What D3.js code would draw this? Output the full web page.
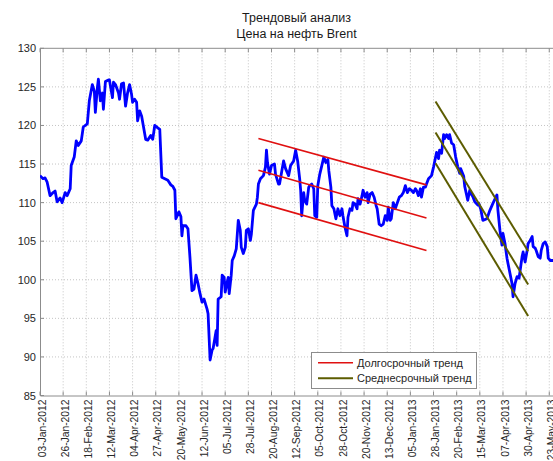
<!DOCTYPE html>
<html><head><meta charset="utf-8">
<script src="https://cdn.jsdelivr.net/npm/d3@7"></script>
<style>
html,body{margin:0;padding:0;background:#fff;}
svg{display:block;font-family:"Liberation Sans",Arial,sans-serif;}
</style></head>
<body><svg id="c" width="553" height="461"></svg>
<script>
const titleLines = ["Трендовый анализ", "Цена на нефть Brent"];
const legendLabels = ["Долгосрочный тренд", "Среднесрочный тренд"];
const xTickLabels = ["03-Jan-2012","26-Jan-2012","18-Feb-2012","12-Mar-2012","04-Apr-2012","27-Apr-2012","20-May-2012","12-Jun-2012","05-Jul-2012","28-Jul-2012","20-Aug-2012","12-Sep-2012","05-Oct-2012","28-Oct-2012","20-Nov-2012","13-Dec-2012","05-Jan-2013","28-Jan-2013","20-Feb-2013","15-Mar-2013","07-Apr-2013","30-Apr-2013","23-May-2013"];
const yTicks = [85,90,95,100,105,110,115,120,125,130];
const xDomain = ["2012-01-03","2013-05-28"];

const dates = ["2012-01-03","2012-01-06","2012-01-08","2012-01-10","2012-01-13","2012-01-16","2012-01-18","2012-01-20","2012-01-23","2012-01-25","2012-01-28","2012-01-30",
"2012-02-02","2012-02-03","2012-02-06","2012-02-08","2012-02-10","2012-02-13","2012-02-15","2012-02-19","2012-02-21","2012-02-24","2012-02-26","2012-02-27","2012-02-29",
"2012-03-01","2012-03-03","2012-03-05","2012-03-06","2012-03-08","2012-03-11","2012-03-12","2012-03-15","2012-03-16","2012-03-18","2012-03-21","2012-03-22","2012-03-24","2012-03-26","2012-03-28","2012-03-30",
"2012-04-01","2012-04-03","2012-04-04","2012-04-06","2012-04-08","2012-04-09","2012-04-11","2012-04-13","2012-04-15","2012-04-17","2012-04-19","2012-04-22","2012-04-24","2012-04-26","2012-04-29",
"2012-05-01","2012-05-03","2012-05-06","2012-05-09","2012-05-12","2012-05-14","2012-05-16","2012-05-17","2012-05-20","2012-05-22","2012-05-23","2012-05-24","2012-05-27","2012-05-29","2012-05-31",
"2012-06-02","2012-06-04","2012-06-06","2012-06-08","2012-06-10","2012-06-12","2012-06-14","2012-06-17","2012-06-18","2012-06-20","2012-06-22","2012-06-23","2012-06-25","2012-06-26","2012-06-27","2012-06-28",
"2012-07-01","2012-07-02","2012-07-04","2012-07-05","2012-07-07","2012-07-08","2012-07-09","2012-07-11","2012-07-12","2012-07-14","2012-07-16","2012-07-18","2012-07-20","2012-07-21","2012-07-23","2012-07-25","2012-07-26","2012-07-28","2012-07-30","2012-07-31",
"2012-08-02","2012-08-05","2012-08-06","2012-08-07","2012-08-09","2012-08-12","2012-08-14","2012-08-15","2012-08-16","2012-08-18","2012-08-20","2012-08-23","2012-08-24","2012-08-27","2012-08-28","2012-08-30",
"2012-09-01","2012-09-03","2012-09-06","2012-09-08","2012-09-11","2012-09-13","2012-09-15","2012-09-17","2012-09-18","2012-09-19","2012-09-21","2012-09-22","2012-09-24","2012-09-26","2012-09-27","2012-09-29",
"2012-10-01","2012-10-02","2012-10-04","2012-10-05","2012-10-07","2012-10-09","2012-10-11","2012-10-13","2012-10-15","2012-10-16","2012-10-18","2012-10-19","2012-10-21","2012-10-23","2012-10-25","2012-10-27","2012-10-29","2012-10-30",
"2012-11-01","2012-11-03","2012-11-04","2012-11-06","2012-11-08","2012-11-09","2012-11-11","2012-11-13","2012-11-14","2012-11-16","2012-11-18","2012-11-19","2012-11-21","2012-11-23","2012-11-24","2012-11-26","2012-11-28","2012-11-30",
"2012-12-02","2012-12-03","2012-12-05","2012-12-07","2012-12-09","2012-12-11","2012-12-13","2012-12-14","2012-12-16","2012-12-17","2012-12-19","2012-12-21","2012-12-22","2012-12-25","2012-12-27","2012-12-29","2012-12-31",
"2013-01-02","2013-01-04","2013-01-06","2013-01-08","2013-01-10","2013-01-11","2013-01-13","2013-01-15","2013-01-16","2013-01-18","2013-01-20","2013-01-21","2013-01-23","2013-01-26","2013-01-28","2013-01-31",
"2013-02-02","2013-02-03","2013-02-05","2013-02-07","2013-02-08","2013-02-10","2013-02-12","2013-02-13","2013-02-15","2013-02-17","2013-02-19","2013-02-21","2013-02-23","2013-02-24","2013-02-27","2013-02-28",
"2013-03-03","2013-03-05","2013-03-06","2013-03-08","2013-03-10","2013-03-13","2013-03-14","2013-03-16","2013-03-18","2013-03-22","2013-03-25","2013-03-28",
"2013-04-01","2013-04-02","2013-04-04","2013-04-06","2013-04-07","2013-04-09","2013-04-11","2013-04-12","2013-04-14","2013-04-16","2013-04-17","2013-04-19","2013-04-21","2013-04-23","2013-04-26","2013-04-27","2013-04-29",
"2013-05-01","2013-05-02","2013-05-04","2013-05-06","2013-05-07","2013-05-09","2013-05-10","2013-05-12","2013-05-14","2013-05-15","2013-05-17","2013-05-19","2013-05-21","2013-05-22","2013-05-24","2013-05-27","2013-05-28"];

const prices = [113.5,113.1,113.2,112.7,110.9,111.3,111.5,110.1,110.6,110.0,111.3,110.9,
111.8,114.8,115.9,118.0,117.4,118.0,119.8,120.2,123.2,125.3,124.4,121.7,124.9,
126.0,123.2,124.2,122.1,125.7,125.9,125.9,123.6,125.6,125.3,124.2,123.4,125.4,125.5,122.5,124.2,
125.3,124.0,123.0,123.4,123.0,120.6,121.9,121.2,119.7,118.2,118.1,118.7,118.2,120.0,119.7,
119.5,113.3,113.1,112.9,112.3,112.1,111.6,107.9,108.8,108.2,105.7,107.0,107.0,106.6,102.9,
98.6,98.8,100.6,99.5,98.2,97.1,97.5,96.2,95.6,89.6,90.9,91.1,92.6,93.4,91.5,97.5,
97.8,100.6,100.3,98.4,99.7,100.3,98.2,100.6,102.5,103.1,104.0,107.7,106.4,104.2,103.4,104.2,106.4,106.6,105.1,105.9,
109.0,109.8,110.7,112.4,113.1,113.5,114.6,116.8,115.2,113.7,114.8,115.0,113.7,112.4,112.4,113.9,
115.4,114.4,113.5,114.8,115.4,116.8,115.4,113.1,111.6,108.3,111.3,110.3,109.8,112.0,112.2,112.4,
111.8,108.3,108.1,112.2,113.7,114.8,115.9,115.2,115.6,114.1,112.0,109.6,109.2,107.9,109.2,108.3,109.2,108.3,
106.8,105.7,108.1,109.2,109.0,110.0,109.8,109.2,110.5,109.8,110.9,111.6,110.7,111.3,110.0,111.1,111.3,110.7,
109.6,109.2,107.2,107.0,107.2,108.3,107.7,109.4,107.7,107.9,110.0,109.2,109.6,110.7,110.9,111.3,112.2,
111.3,111.8,111.6,111.3,111.8,111.6,110.9,111.8,110.7,112.0,112.0,112.4,113.1,113.5,114.6,116.5,
115.7,116.8,116.4,118.8,118.3,118.8,118.3,118.8,117.7,117.5,115.9,114.7,113.8,114.4,113.4,112.1,
110.3,111.6,111.2,110.8,110.1,109.7,109.9,109.1,107.7,107.9,109.0,109.9,
111.0,109.0,106.4,104.5,106.0,104.7,102.8,102.1,100.8,99.5,97.8,99.5,100.4,100.2,103.0,103.6,102.3,
103.8,104.7,105.1,105.6,104.3,104.1,103.8,103.0,102.8,103.8,104.7,104.9,104.3,102.8,102.5,102.5,102.6];

// Long-term trend channel (red): start/end dates, upper / middle / lower values
const longTrendDates = ["2012-08-07","2013-01-21"];
const longTrendUpper = [118.3,112.3];
const longTrendMiddle = [114.2,108.0];
const longTrendLower = [110.0,103.8];
// Medium-term trend channel (olive)
const midTrendDates = ["2013-01-30","2013-05-02"];
const midTrendUpper = [123.1,103.7];
const midTrendMiddle = [119.1,99.4];
const midTrendLower = [115.1,95.3];

const svg = d3.select("#c");
const L = 40, R = 554.3, T = 48.3, B = 395.5;
const parse = d3.utcParse("%Y-%m-%d");
const parseTick = d3.utcParse("%d-%b-%Y");
const x = d3.scaleUtc().domain(xDomain.map(parse)).range([L, R]);
const y = d3.scaleLinear().domain([85,130]).range([B, T]);

svg.append("defs").append("clipPath").attr("id","clip")
  .append("rect").attr("x",L).attr("y",T).attr("width",R-L).attr("height",B-T);

const tickDates = xTickLabels.map(parseTick);

// grid
const grid = svg.append("g");
grid.selectAll(".gx").data(tickDates.slice(1)).enter().append("line")
  .attr("x1",d=>x(d)).attr("x2",d=>x(d)).attr("y1",T).attr("y2",B)
  .attr("stroke","#c4c4c4").attr("stroke-width",1).attr("stroke-dasharray","1,2");
grid.selectAll(".gy").data(yTicks.slice(1,-1)).enter().append("line")
  .attr("x1",L).attr("x2",R).attr("y1",d=>y(d)).attr("y2",d=>y(d))
  .attr("stroke","#c4c4c4").attr("stroke-width",1).attr("stroke-dasharray","1,2");

// axes
const xAxis = d3.axisBottom(x).tickValues(tickDates).tickSize(0).tickPadding(0)
  .tickFormat((d,i)=>xTickLabels[i]);
const gx = svg.append("g").attr("transform",`translate(0,${B})`).call(xAxis);
gx.select(".domain").attr("stroke","#8c8c8c");
gx.selectAll("text").attr("transform","rotate(-90)").attr("text-anchor","end")
  .attr("x",-4).attr("y",1.5).attr("dy","0.35em").attr("font-size",10.3)
  .attr("font-family","Liberation Sans, Arial, sans-serif").attr("fill","#262626");

const yAxis = d3.axisLeft(y).tickValues(yTicks).tickSize(0).tickPadding(4);
const gy = svg.append("g").attr("transform",`translate(${L},0)`).call(yAxis);
gy.select(".domain").attr("stroke","#8c8c8c");
gy.selectAll("text").attr("font-size",11).attr("fill","#262626")
  .attr("font-family","Liberation Sans, Arial, sans-serif");

// top border and inward tick marks
svg.append("line").attr("x1",L).attr("x2",R).attr("y1",T).attr("y2",T).attr("stroke","#8c8c8c");
svg.append("g").selectAll("line").data(tickDates).enter().append("line")
  .attr("x1",d=>x(d)).attr("x2",d=>x(d)).attr("y1",B).attr("y2",B-4).attr("stroke","#8c8c8c");
svg.append("g").selectAll("line").data(tickDates).enter().append("line")
  .attr("x1",d=>x(d)).attr("x2",d=>x(d)).attr("y1",T).attr("y2",T+4).attr("stroke","#8c8c8c");
svg.append("g").selectAll("line").data(yTicks).enter().append("line")
  .attr("x1",L).attr("x2",L+4).attr("y1",d=>y(d)).attr("y2",d=>y(d)).attr("stroke","#8c8c8c");

// price line
const series = dates.map((d,i)=>({d:parse(d), v:prices[i]}));
const line = d3.line().x(p=>x(p.d)).y(p=>y(p.v));
svg.append("path").datum(series).attr("clip-path","url(#clip)")
  .attr("d",line).attr("fill","none").attr("stroke","#0000ff").attr("stroke-width",2.8)
  .attr("stroke-linejoin","round");

// trend channels
function channel(ds, vals, color, w){
  const pts = ds.map((d,i)=>({d:parse(d), v:vals[i]}));
  svg.append("path").datum(pts).attr("d",line).attr("fill","none")
    .attr("stroke",color).attr("stroke-width",w);
}
const RED = "#e01010", OLIVE = "#5c5c00";
[longTrendUpper,longTrendMiddle,longTrendLower].forEach(v=>channel(longTrendDates,v,RED,1.6));
[midTrendUpper,midTrendMiddle,midTrendLower].forEach(v=>channel(midTrendDates,v,OLIVE,2));

// title
svg.append("g").selectAll("text").data(titleLines).enter().append("text")
  .attr("x",(L+553)/2).attr("y",(d,i)=>22+i*16).attr("text-anchor","middle")
  .attr("font-size",12.5).attr("fill","#1a1a1a").text(d=>d);

// legend
const lg = svg.append("g");
lg.append("rect").attr("x",311.5).attr("y",352.5).attr("width",165).attr("height",36)
  .attr("fill","#fff").attr("stroke","#8c8c8c");
[RED,OLIVE].forEach((c,i)=>{
  const yy = 362.7 + i*15.6;
  lg.append("line").attr("x1",318).attr("x2",353).attr("y1",yy).attr("y2",yy)
    .attr("stroke",c).attr("stroke-width",i?2:1.6);
  lg.append("text").attr("x",357).attr("y",yy).attr("dy","0.35em")
    .attr("font-size",11).attr("fill","#262626").text(legendLabels[i]);
});
</script></body></html>
